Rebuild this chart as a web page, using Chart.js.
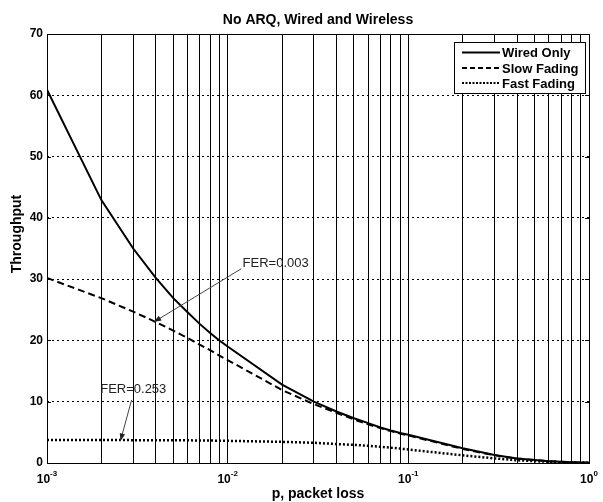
<!DOCTYPE html>
<html>
<head>
<meta charset="utf-8">
<script src="https://cdn.jsdelivr.net/npm/chart.js@4.4.1/dist/chart.umd.min.js"></script>
<style>
  html, body { margin: 0; padding: 0; background: #fff; }
  #wrap { width: 603px; height: 502px; }
</style>
</head>
<body>
<div id="wrap"><canvas id="c"></canvas></div>
<script>
// packet loss samples (x)
const pLoss = [0.001, 0.002, 0.003, 0.004, 0.005, 0.006, 0.007, 0.008, 0.009,
               0.01, 0.02, 0.03, 0.04, 0.05, 0.06, 0.07, 0.08, 0.09,
               0.1, 0.2, 0.3, 0.4, 0.5, 0.6, 0.7, 0.8, 0.9, 1];

// throughput
const wiredOnly = [60.9, 42.9, 35.0, 30.2, 26.9, 24.6, 22.7, 21.2, 20.0,
                   19.0, 12.8, 10.0, 8.4, 7.3, 6.5, 5.8, 5.3, 4.9,
                   4.6, 2.4, 1.3, 0.75, 0.5, 0.3, 0.2, 0.12, 0.08, 0.05];
const slowFading = [30.2, 26.9, 24.7, 23.0, 21.6, 20.4, 19.3, 18.4, 17.5,
                    16.8, 11.9, 9.6, 8.2, 7.1, 6.3, 5.7, 5.2, 4.8,
                    4.5, 2.3, 1.25, 0.72, 0.48, 0.3, 0.2, 0.12, 0.08, 0.05];
const fastFading = [3.75, 3.75, 3.73, 3.72, 3.7, 3.7, 3.68, 3.66, 3.64,
                    3.62, 3.45, 3.3, 3.1, 2.95, 2.8, 2.65, 2.5, 2.35,
                    2.2, 1.25, 0.75, 0.45, 0.3, 0.2, 0.12, 0.08, 0.05, 0.03];

const seriesNames = ['Wired Only', 'Slow Fading', 'Fast Fading'];
const xDecades = [0.001, 0.01, 0.1, 1];
const xDecadeLabels = [['10', '-3'], ['10', '-2'], ['10', '-1'], ['10', '0']];
const yTicks = [0, 10, 20, 30, 40, 50, 60, 70];

// annotations: [text, textX, textY, arrowFromX, arrowFromY, arrowToX, arrowToY]
const notes = [
  ['FER=0.003', 0.0121, 32.0, 0.0119, 31.7, 0.0039, 23.0],
  ['FER=0.253', 0.00197, 11.4, 0.00294, 10.3, 0.00255, 3.6]
];

const toXY = ys => pLoss.map((p, i) => ({ x: p, y: ys[i] }));

const boldFont = size => 'bold ' + size + 'px "Liberation Sans", Arial, sans-serif';

// MATLAB-like frame, labels, legend and arrows
const decor = {
  id: 'decor',
  afterDraw(chart) {
    const ctx = chart.ctx;
    const a = chart.chartArea;
    const xs = chart.scales.x, ys = chart.scales.y;
    ctx.save();

    // frame
    ctx.strokeStyle = '#000';
    ctx.lineWidth = 1;
    ctx.setLineDash([]);
    ctx.strokeRect(Math.round(a.left) + 0.5, Math.round(a.top) + 0.5,
                   Math.round(a.right - a.left), Math.round(a.bottom - a.top));

    // y tick marks inside, both sides
    yTicks.forEach(v => {
      const py = Math.round(ys.getPixelForValue(v)) + 0.5;
      ctx.beginPath();
      ctx.moveTo(a.left, py); ctx.lineTo(a.left + 4, py);
      ctx.moveTo(a.right, py); ctx.lineTo(a.right - 4, py);
      ctx.stroke();
    });

    // x tick labels with superscripts
    ctx.fillStyle = '#000';
    ctx.textBaseline = 'alphabetic';
    xDecades.forEach((v, i) => {
      const px = xs.getPixelForValue(v);
      ctx.font = boldFont(12);
      const base = xDecadeLabels[i][0];
      const wb = ctx.measureText(base).width;
      ctx.font = boldFont(8);
      const sup = xDecadeLabels[i][1];
      const ws = ctx.measureText(sup).width;
      const x0 = px - (wb + ws) / 2;
      ctx.font = boldFont(12);
      ctx.textAlign = 'left';
      ctx.fillText(base, x0, 483);
      ctx.font = boldFont(8);
      ctx.fillText(sup, x0 + wb, 476);
    });

    // title
    ctx.font = boldFont(14);
    ctx.textAlign = 'center';
    ctx.fillText('No ARQ, Wired and Wireless', (a.left + a.right) / 2, 24);

    // axis titles
    ctx.font = boldFont(14);
    ctx.fillText('p, packet loss', (a.left + a.right) / 2, 498);
    ctx.save();
    ctx.translate(21, 234);
    ctx.rotate(-Math.PI / 2);
    ctx.fillText('Throughput', 0, 0);
    ctx.restore();

    // legend
    const lx = 454, ly = 42, lw = 131, lh = 51;
    ctx.fillStyle = '#fff';
    ctx.fillRect(lx, ly, lw, lh);
    ctx.strokeStyle = '#000';
    ctx.lineWidth = 1;
    ctx.strokeRect(lx + 0.5, ly + 0.5, lw, lh);
    const dashes = [[], [5, 3], [2, 1.5]];
    const rowsY = [52.5, 68, 83];
    chart.data.datasets.forEach((ds, i) => {
      ctx.setLineDash(dashes[i]);
      ctx.lineWidth = 2;
      ctx.beginPath();
      ctx.moveTo(462, rowsY[i]);
      ctx.lineTo(500, rowsY[i]);
      ctx.stroke();
      ctx.setLineDash([]);
      ctx.fillStyle = '#000';
      ctx.font = boldFont(13);
      ctx.textAlign = 'left';
      ctx.textBaseline = 'middle';
      ctx.fillText(ds.label, 502, rowsY[i] + 1);
    });

    // annotations
    ctx.textBaseline = 'alphabetic';
    notes.forEach(n => {
      const tx = xs.getPixelForValue(n[1]), ty = ys.getPixelForValue(n[2]);
      const fx = xs.getPixelForValue(n[3]), fy = ys.getPixelForValue(n[4]);
      const hx = xs.getPixelForValue(n[5]), hy = ys.getPixelForValue(n[6]);
      ctx.font = '13px "Liberation Sans", Arial, sans-serif';
      ctx.fillStyle = '#222';
      ctx.textAlign = 'left';
      ctx.fillText(n[0], tx, ty);
      ctx.strokeStyle = '#444';
      ctx.lineWidth = 1;
      ctx.beginPath();
      ctx.moveTo(fx, fy);
      ctx.lineTo(hx, hy);
      ctx.stroke();
      const ang = Math.atan2(hy - fy, hx - fx);
      const L = 8, W = 0.35;
      ctx.fillStyle = '#222';
      ctx.beginPath();
      ctx.moveTo(hx, hy);
      ctx.lineTo(hx - L * Math.cos(ang - W), hy - L * Math.sin(ang - W));
      ctx.lineTo(hx - L * Math.cos(ang + W), hy - L * Math.sin(ang + W));
      ctx.closePath();
      ctx.fill();
    });

    ctx.restore();
  }
};

new Chart(document.getElementById('c'), {
  type: 'line',
  data: {
    datasets: [
      { label: seriesNames[0], data: toXY(wiredOnly), borderColor: '#000', borderWidth: 2, borderDash: [] },
      { label: seriesNames[1], data: toXY(slowFading), borderColor: '#000', borderWidth: 2, borderDash: [7, 4] },
      { label: seriesNames[2], data: toXY(fastFading), borderColor: '#000', borderWidth: 2.5, borderDash: [2, 2] }
    ]
  },
  options: {
    responsive: true,
    maintainAspectRatio: false,
    animation: false,
    layout: { padding: { left: 0, right: 14, top: 34, bottom: 0 } },
    elements: { point: { radius: 0 }, line: { tension: 0 } },
    plugins: {
      legend: { display: false },
      tooltip: { enabled: false },
      title: { display: false }
    },
    scales: {
      x: {
        type: 'logarithmic',
        min: 0.001,
        max: 1,
        afterBuildTicks: scale => { scale.ticks = pLoss.map(v => ({ value: v })); },
        afterFit: scale => { scale.height = 39; },
        ticks: { display: false },
        grid: { color: '#000', lineWidth: 1, drawTicks: false },
        border: { display: false }
      },
      y: {
        min: 0,
        max: 70,
        afterBuildTicks: scale => { scale.ticks = yTicks.map(v => ({ value: v })); },
        afterFit: scale => { scale.width = 47; },
        ticks: {
          color: '#000',
          padding: 4,
          font: { family: '"Liberation Sans", Arial, sans-serif', size: 12, weight: 'bold' }
        },
        grid: { color: '#000', lineWidth: 1, drawTicks: false },
        border: { display: false, dash: [2, 3] }
      }
    }
  },
  plugins: [decor]
});
</script>
</body>
</html>
